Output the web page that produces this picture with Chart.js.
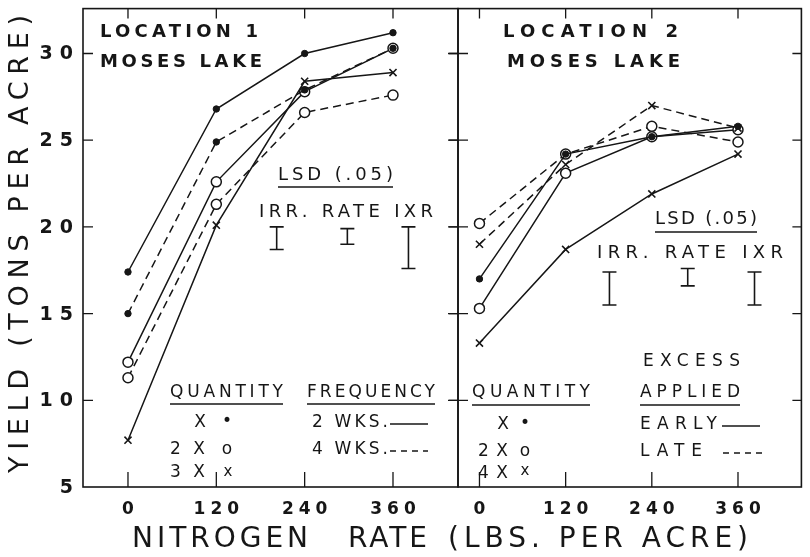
<!DOCTYPE html>
<html>
<head>
<meta charset="utf-8">
<title>Yield vs nitrogen rate – Moses Lake</title>
<script src="https://cdn.jsdelivr.net/npm/chart.js@4.4.1/dist/chart.umd.min.js"></script>
<style>
  html, body { margin: 0; padding: 0; background: #fff; overflow: hidden; }
  #wrap { position: relative; width: 810px; height: 557px; }
  canvas { position: absolute; left: 0; top: 0; }
</style>
</head>
<body>
<div id="wrap">
  <canvas id="loc1" width="810" height="557"></canvas>
  <canvas id="loc2" width="810" height="557"></canvas>
</div>
<script>
/* ================================================
   Data (yield, tons per acre)
   ================================================ */

const nitrogenRates = [0, 120, 240, 360];
const xTickLabels   = ['0', '120', '240', '360'];
const yTickValues   = [5, 10, 15, 20, 25, 30];

// Location 1 – quantity x frequency
const loc1X_2wk  = [17.4, 26.8, 30.0, 31.2];
const loc1X_4wk  = [15.0, 24.9, 27.9, 30.3];
const loc12X_2wk = [12.2, 22.6, 27.8, 30.3];
const loc12X_4wk = [11.3, 21.3, 26.6, 27.6];
const loc13X_2wk = [7.7, 20.1, 28.4, 28.9];

// Location 1 – LSD (.05) bars: IRR., RATE, IXR
const loc1LsdAt     = [202, 298, 381];
const loc1LsdTop    = [20.0, 19.9, 20.0];
const loc1LsdBottom = [18.7, 19.0, 17.6];

// Location 2 – quantity x excess applied
const loc2X        = [17.0, 24.2, 25.2, 25.8];
const loc22X_early = [15.3, 23.1, 25.2, 25.6];
const loc22X_late  = [20.2, 24.2, 25.8, 24.9];
const loc24X_early = [13.3, 18.7, 21.9, 24.2];
const loc24X_late  = [19.0, 23.6, 27.0, 25.7];

// Location 2 – LSD (.05) bars
const loc2LsdAt     = [181, 290, 383];
const loc2LsdTop    = [17.4, 17.6, 17.4];
const loc2LsdBottom = [15.5, 16.6, 15.5];

/* ================================================
   Helpers
   ================================================ */

const INK  = '#161616';
const FONT = '"DejaVu Sans"';

function fitText(ctx, s, x, y, size, width, weight) {
  ctx.font = (weight || 'normal') + ' ' + size + 'px ' + FONT;
  ctx.letterSpacing = '0px';
  const n = [...s].length;
  const natural = ctx.measureText(s).width;
  const sp = n > 1 ? (width - natural) / (n - 1) : 0;
  ctx.letterSpacing = sp + 'px';
  ctx.textAlign = 'left';
  ctx.textBaseline = 'middle';
  ctx.fillText(s, x, y);
  ctx.letterSpacing = '0px';
}

function spacedText(ctx, s, x, y, size, spacing, weight, align) {
  ctx.font = (weight || 'normal') + ' ' + size + 'px ' + FONT;
  ctx.letterSpacing = '0px';
  const n = [...s].length;
  const total = ctx.measureText(s).width + spacing * (n - 1);
  const left = align === 'right' ? x - total : align === 'center' ? x - total / 2 : x;
  ctx.letterSpacing = spacing + 'px';
  ctx.textAlign = 'left';
  ctx.textBaseline = 'middle';
  ctx.fillText(s, left, y);
  ctx.letterSpacing = '0px';
}

function series(values, marker, dashed) {
  const ds = {
    data: nitrogenRates.map((n, i) => ({ x: n, y: values[i] })),
    borderColor: INK,
    borderWidth: 1.5,
    borderDash: dashed ? [8, 5] : [],
    tension: 0,
    fill: false,
    pointBorderColor: INK,
  };
  if (marker === 'dot')    Object.assign(ds, { pointStyle: 'circle', pointRadius: 3.2, pointBackgroundColor: INK, pointBorderWidth: 1 });
  if (marker === 'circle') Object.assign(ds, { pointStyle: 'circle', pointRadius: 5, pointBackgroundColor: '#fff', pointBorderWidth: 1.5 });
  if (marker === 'cross')  Object.assign(ds, { pointStyle: 'crossRot', pointRadius: 5, pointBorderWidth: 1.6 });
  return ds;
}

function lsdBars(at, tops, bottoms) {
  return at.map((n, i) => ({
    data: [{ x: n, y: tops[i] }, { x: n, y: bottoms[i] }],
    borderColor: INK,
    borderWidth: 1.6,
    pointStyle: 'line',
    pointRadius: 7,
    pointBorderColor: INK,
    pointBorderWidth: 1.6,
  }));
}

/* ================================================
   Plugins: frame, inward ticks, labels, texts
   ================================================ */

const panelAxes = {
  id: 'panelAxes',
  afterDatasetsDraw(chart, args, o) {
    const { ctx, chartArea: a, scales: { x, y } } = chart;
    ctx.save();
    ctx.strokeStyle = INK;
    ctx.lineWidth = 1.6;
    ctx.strokeRect(a.left, a.top, a.right - a.left, a.bottom - a.top);

    ctx.lineWidth = 1.3;
    ctx.beginPath();
    nitrogenRates.forEach(v => {
      const px = x.getPixelForValue(v);
      ctx.moveTo(px, a.top);    ctx.lineTo(px, a.top + 10);
      ctx.moveTo(px, a.bottom); ctx.lineTo(px, a.bottom - 15);
    });
    yTickValues.slice(1).forEach(v => {
      const py = y.getPixelForValue(v);
      ctx.moveTo(a.left - o.leftOut, py); ctx.lineTo(a.left + o.leftIn, py);
      ctx.moveTo(a.right, py);            ctx.lineTo(a.right - 9, py);
    });
    ctx.stroke();

    ctx.fillStyle = INK;
    nitrogenRates.forEach((v, i) =>
      spacedText(ctx, xTickLabels[i], x.getPixelForValue(v), a.bottom + 23, 17, 5, 'bold', 'center'));
    if (o.yLabels) {
      yTickValues.forEach(v =>
        spacedText(ctx, String(v), a.left - 10, y.getPixelForValue(v) + 1, 19, 7, 'bold', 'right'));
    }
    ctx.restore();
  }
};

const panelText = {
  id: 'panelText',
  afterDraw(chart, args, o) {
    const ctx = chart.ctx;
    ctx.save();
    ctx.fillStyle = INK;
    ctx.strokeStyle = INK;
    (o.texts || []).forEach(t => {
      if (t.w) fitText(ctx, t.s, t.x, t.y, t.size, t.w, t.weight);
      else spacedText(ctx, t.s, t.x, t.y, t.size, 0, t.weight, 'center');
    });
    ctx.lineWidth = 1.4;
    (o.underlines || []).forEach(([x1, x2, yy]) => {
      ctx.beginPath(); ctx.moveTo(x1, yy); ctx.lineTo(x2, yy); ctx.stroke();
    });
    ctx.lineWidth = 1.5;
    (o.keyLines || []).forEach(([x1, x2, yy, dashed]) => {
      ctx.setLineDash(dashed ? [6, 5] : []);
      ctx.beginPath(); ctx.moveTo(x1, yy); ctx.lineTo(x2, yy); ctx.stroke();
    });
    ctx.setLineDash([]);

    if (o.axisTitles) {
      fitText(ctx, 'NITROGEN', 132, 540, 28, 176);
      fitText(ctx, 'RATE', 348, 540, 28, 79);
      fitText(ctx, '(LBS. PER ACRE)', 448, 540, 28, 300);
      ctx.translate(21, 473);
      ctx.rotate(-Math.PI / 2);
      fitText(ctx, 'YIELD (TONS PER ACRE)', 0, 0, 27, 458);
    }
    ctx.restore();
  }
};

function baseOptions(padding, xMin, xMax, axesOpts, textOpts) {
  return {
    responsive: false,
    animation: false,
    devicePixelRatio: 1,
    events: [],
    layout: { padding },
    scales: {
      x: { type: 'linear', min: xMin, max: xMax, display: false },
      y: { type: 'linear', min: 5, max: 32.59, display: false },
    },
    plugins: {
      legend: { display: false },
      tooltip: { enabled: false },
      panelAxes: axesOpts,
      panelText: textOpts,
    },
  };
}

/* ================================================
   Location 1
   ================================================ */

new Chart(document.getElementById('loc1'), {
  type: 'line',
  data: {
    datasets: [
      series(loc1X_2wk, 'dot', false),
      series(loc1X_4wk, 'dot', true),
      series(loc13X_2wk, 'cross', false),
      series(loc12X_2wk, 'circle', false),
      series(loc12X_4wk, 'circle', true),
      ...lsdBars(loc1LsdAt, loc1LsdTop, loc1LsdBottom),
    ],
  },
  options: baseOptions(
    { left: 83, right: 352, top: 7, bottom: 70 }, -61.1, 448.3,
    { leftOut: 0, leftIn: 10, yLabels: true },
    {
      axisTitles: true,
      texts: [
        { s: 'LOCATION 1', x: 100, y: 32, size: 18, w: 158, weight: 'bold' },
        { s: 'MOSES LAKE', x: 100, y: 62, size: 18, w: 162, weight: 'bold' },
        { s: 'LSD (.05)', x: 278, y: 175, size: 18, w: 115 },
        { s: 'IRR. RATE IXR', x: 259, y: 212, size: 18, w: 174 },
        { s: 'QUANTITY', x: 170, y: 393, size: 17, w: 113 },
        { s: 'FREQUENCY', x: 307, y: 393, size: 17, w: 128 },
        { s: 'X', x: 200, y: 423, size: 17 },
        { s: '•', x: 227, y: 422, size: 17 },
        { s: '2 X', x: 170, y: 450, size: 17, w: 35 },
        { s: 'o', x: 227, y: 450, size: 17 },
        { s: '3 X', x: 170, y: 473, size: 17, w: 35 },
        { s: 'x', x: 228, y: 472, size: 15 },
        { s: '2 WKS.', x: 312, y: 423, size: 17, w: 76 },
        { s: '4 WKS.', x: 312, y: 450, size: 17, w: 76 },
      ],
      underlines: [[278, 393, 187], [170, 283, 404], [307, 435, 404]],
      keyLines: [[390, 428, 424, false], [390, 428, 451, true]],
    }
  ),
  plugins: [panelAxes, panelText],
});

/* ================================================
   Location 2
   ================================================ */

new Chart(document.getElementById('loc2'), {
  type: 'line',
  data: {
    datasets: [
      series(loc2X, 'dot', false),
      series(loc24X_late, 'cross', true),
      series(loc24X_early, 'cross', false),
      series(loc22X_early, 'circle', false),
      series(loc22X_late, 'circle', true),
      ...lsdBars(loc2LsdAt, loc2LsdTop, loc2LsdBottom),
    ],
  },
  options: baseOptions(
    { left: 458, right: 0, top: 7, bottom: 70 }, -29.9, 448.3,
    { leftOut: 10, leftIn: 10, yLabels: false },
    {
      texts: [
        { s: 'LOCATION 2', x: 503, y: 32, size: 18, w: 175, weight: 'bold' },
        { s: 'MOSES LAKE', x: 507, y: 62, size: 18, w: 173, weight: 'bold' },
        { s: 'LSD (.05)', x: 655, y: 219, size: 18, w: 102 },
        { s: 'IRR. RATE IXR', x: 597, y: 253, size: 18, w: 186 },
        { s: 'EXCESS', x: 643, y: 362, size: 17, w: 97 },
        { s: 'QUANTITY', x: 472, y: 393, size: 17, w: 118 },
        { s: 'APPLIED', x: 640, y: 393, size: 17, w: 100 },
        { s: 'X', x: 503, y: 425, size: 17 },
        { s: '•', x: 525, y: 424, size: 17 },
        { s: '2X', x: 478, y: 452, size: 17, w: 30 },
        { s: 'o', x: 525, y: 452, size: 17 },
        { s: '4X', x: 478, y: 474, size: 17, w: 30 },
        { s: 'x', x: 525, y: 471, size: 15 },
        { s: 'EARLY', x: 640, y: 425, size: 17, w: 77 },
        { s: 'LATE', x: 640, y: 452, size: 17, w: 62 },
      ],
      underlines: [[655, 757, 232], [472, 590, 405], [640, 740, 405]],
      keyLines: [[722, 760, 426, false], [723, 765, 453, true]],
    }
  ),
  plugins: [panelAxes, panelText],
});
</script>
</body>
</html>
